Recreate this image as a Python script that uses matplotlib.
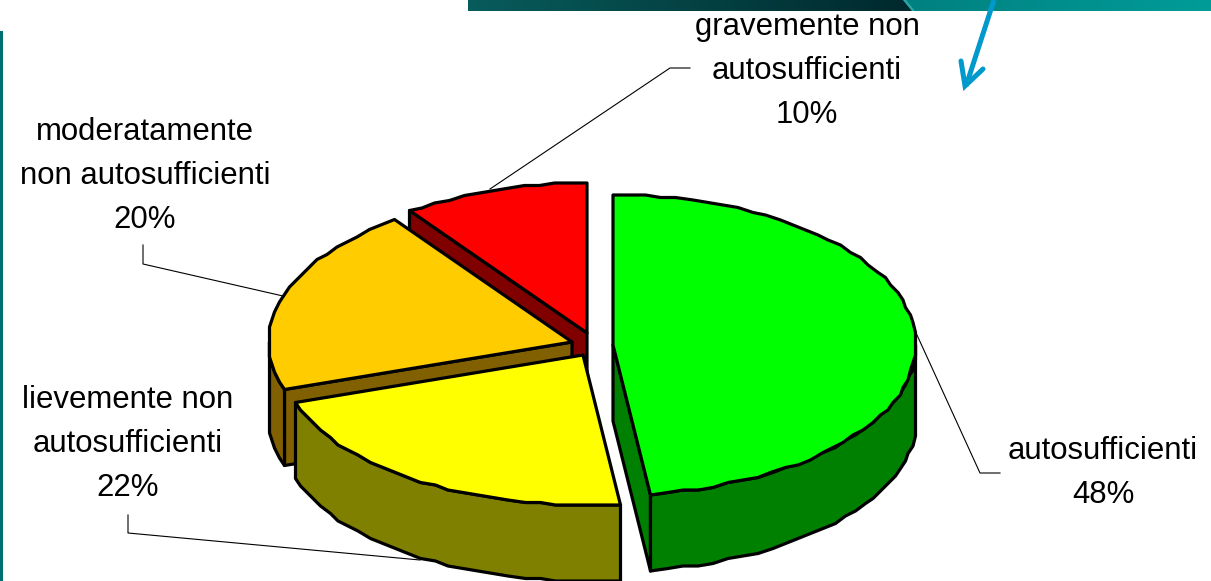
import numpy as np
import matplotlib
matplotlib.use("Agg")
import matplotlib.pyplot as plt
from matplotlib.patches import Polygon
from matplotlib.colors import LinearSegmentedColormap

categories = ["autosufficienti", "lievemente non\nautosufficienti",
              "moderatamente\nnon autosufficienti", "gravemente non\nautosufficienti"]
values = [48, 22, 20, 10]

TOP = ["#00ff00", "#ffff00", "#ffcc00", "#ff0000"]
SIDE = ["#008000", "#808000", "#806000", "#800000"]
CENTER = [(613, 345), (583, 355), (572, 342), (587, 333)]
LABEL_POS = [(1103, 473), (128, 444), (145, 176), (807, 71)]
LEADER = [[(917, 335), (980, 473), (1000, 473)],
          [(420, 560), (128, 533), (128, 515)],
          [(283, 296), (143, 264), (143, 245)],
          [(490, 189), (670, 68), (690, 68)]]
RX, RY, DEPTH = 303, 150, 76

plt.rcParams["font.family"] = ["Liberation Sans", "DejaVu Sans"]
fig = plt.figure(figsize=(12.11, 5.81), dpi=100)
ax = fig.add_axes([0, 0, 1, 1])
ax.set_xlim(0, 1211)
ax.set_ylim(581, 0)
ax.axis("off")

# header band
cm1 = LinearSegmentedColormap.from_list("a", ["#085c5c", "#00282c"])
cm2 = LinearSegmentedColormap.from_list("b", ["#008080", "#009c98"])
grad = np.linspace(0, 1, 256)[None, :]
ax.imshow(grad, cmap=cm1, extent=(468, 915, 11, 0), aspect="auto", zorder=1)
im2 = ax.imshow(grad, cmap=cm2, extent=(903, 1211, 11, 0), aspect="auto", zorder=2)
clip = Polygon([(903, 0), (1211, 0), (1211, 11), (912, 11)], transform=ax.transData)
im2.set_clip_path(clip)
ax.add_patch(Polygon([(903, 0), (906, 0), (915, 11), (912, 11)], fc="#2aa8a8", ec="none", zorder=3))
ax.set_xlim(0, 1211)
ax.set_ylim(581, 0)

# left rule
ax.add_patch(plt.Rectangle((0, 31), 3, 550, fc="#007070", ec="none", zorder=1))

# arrow
ax.plot([994, 966], [0, 86], color="#0099cc", lw=3.6, solid_capstyle="butt", zorder=4)
ax.plot([961, 965, 983], [61, 86, 69], color="#0099cc", lw=3.6, solid_joinstyle="miter",
        solid_capstyle="round", zorder=4)

# leaders
for pts in LEADER:
    xs, ys = zip(*pts)
    ax.plot(xs, ys, color="black", lw=0.8, zorder=5)

GRID = 2.5

def rim(c, a, b, dz=0, step=3.0):
    n = max(2, int(abs(b - a) / step) + 1)
    t = np.radians(np.linspace(a, b, n))
    x = RX * np.sin(t)
    y = -RY * np.cos(t)
    # the original's outline is stepped: snap to a coarse grid
    x = np.round(x / GRID) * GRID
    y = np.round(y / GRID) * GRID
    return np.column_stack([c[0] + x, c[1] + y + dz])

edge = dict(ec="black", lw=2.3, joinstyle="round")
ends = np.cumsum(values) / sum(values) * 360
starts = np.r_[0, ends[:-1]]

def radial_face(c, t, side, z):
    p = rim(c, t, t, step=1)[0]
    ax.add_patch(Polygon([c, p, (p[0], p[1] + DEPTH), (c[0], c[1] + DEPTH)], fc=side, zorder=z, **edge))

# back slices first, so the nearer ones cover them
order = [3, 2, 1, 0]
for rank, i in enumerate(order):
    a, b, c, top, side = starts[i], ends[i], CENTER[i], TOP[i], SIDE[i]
    z = 10 + 3 * rank
    # radial faces that turn towards the viewer
    if np.sin(np.radians(a)) < -1e-6:
        radial_face(c, a, side, z)
    if np.sin(np.radians(b)) > 1e-6:
        radial_face(c, b, side, z)
    # outer wall, only the front half of the ellipse
    lo, hi = max(a, 90), min(b, 270)
    if hi > lo:
        up = rim(c, lo, hi)
        dn = rim(c, hi, lo, DEPTH)
        ax.add_patch(Polygon(np.vstack([up, dn]), fc=side, zorder=z + 1, **edge))
    # top face
    ax.add_patch(Polygon(np.vstack([[c], rim(c, a, b)]), fc=top, zorder=z + 2, **edge))

for name, v, pos in zip(categories, values, LABEL_POS):
    ax.text(pos[0], pos[1], f"{name}\n{v}%", ha="center", va="center", fontsize=22.4,
            linespacing=1.6, color="black", zorder=40)

fig.savefig("out.png", dpi=100)
